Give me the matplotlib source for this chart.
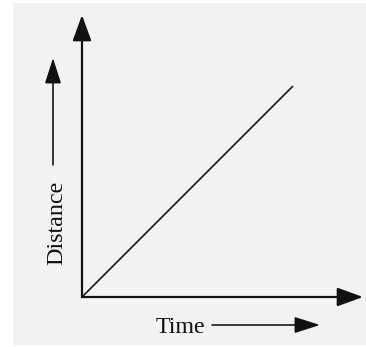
import matplotlib
matplotlib.use("Agg")
import matplotlib.pyplot as plt
from matplotlib.patches import Rectangle, FancyArrowPatch

# ---- data ----
time = [0, 10]
distance = [0, 10]
x_label = "Time"
y_label = "Distance"

W, H = 366, 347
DPI = 72


def px(x, y):
    """pixel (from top-left) -> figure fraction"""
    return (x / W, 1 - y / H)


fig = plt.figure(figsize=(W / DPI, H / DPI), dpi=DPI)
fig.patch.set_facecolor("white")

# light grey panel
x0, y0 = px(13, 345)
fig.patches.append(Rectangle((x0, y0), (W - 13) / W, (345 - 3) / H,
                             transform=fig.transFigure, facecolor="#f2f2f2",
                             edgecolor="none", zorder=-5))

# axes: origin at pixel (82, 297)
ox, oy = 82, 297
ax = fig.add_axes([ox / W, (H - oy) / H, (363 - ox) / W, (oy - 15) / H])
ax.set_zorder(2)
ax.set_xlim(0, (363 - ox) / 21.1)
ax.set_ylim(0, (oy - 15) / 21.1)
ax.patch.set_visible(False)
for s in ax.spines.values():
    s.set_visible(False)
ax.set_xticks([])
ax.set_yticks([])

ax.plot(time, distance, color="#111111", lw=1.6, clip_on=False,
        solid_capstyle="butt")

style = "-|>,head_length=22,head_width=8"
for start, end in [((0, 0), (1, 0)), ((0, 0), (0, 1))]:
    a = FancyArrowPatch(start, end, transform=ax.transAxes,
                        arrowstyle=style, mutation_scale=1,
                        color="#111111", lw=2.2, shrinkA=0, shrinkB=0,
                        clip_on=False)
    ax.add_patch(a)

# label arrows
small = "-|>,head_length=22,head_width=7"
fig.patches.append(FancyArrowPatch(px(53, 165), px(53, 58),
                                   transform=fig.transFigure,
                                   arrowstyle=small, mutation_scale=1,
                                   color="#111111", lw=1.6,
                                   shrinkA=0, shrinkB=0))
fig.patches.append(FancyArrowPatch(px(212, 325), px(320, 325),
                                   transform=fig.transFigure,
                                   arrowstyle=small, mutation_scale=1,
                                   color="#111111", lw=1.6,
                                   shrinkA=0, shrinkB=0))

font = dict(family=["Liberation Serif", "DejaVu Serif"], fontsize=24,
            color="#111111")
tx, ty = px(180, 333)
fig.text(tx, ty, x_label, ha="center", va="baseline", **font)
dx, dy = px(62, 223)
fig.text(dx, dy, y_label, ha="center", va="baseline", rotation=90,
         rotation_mode="anchor", **font)

fig.savefig("out.png", dpi=DPI, facecolor="white")
